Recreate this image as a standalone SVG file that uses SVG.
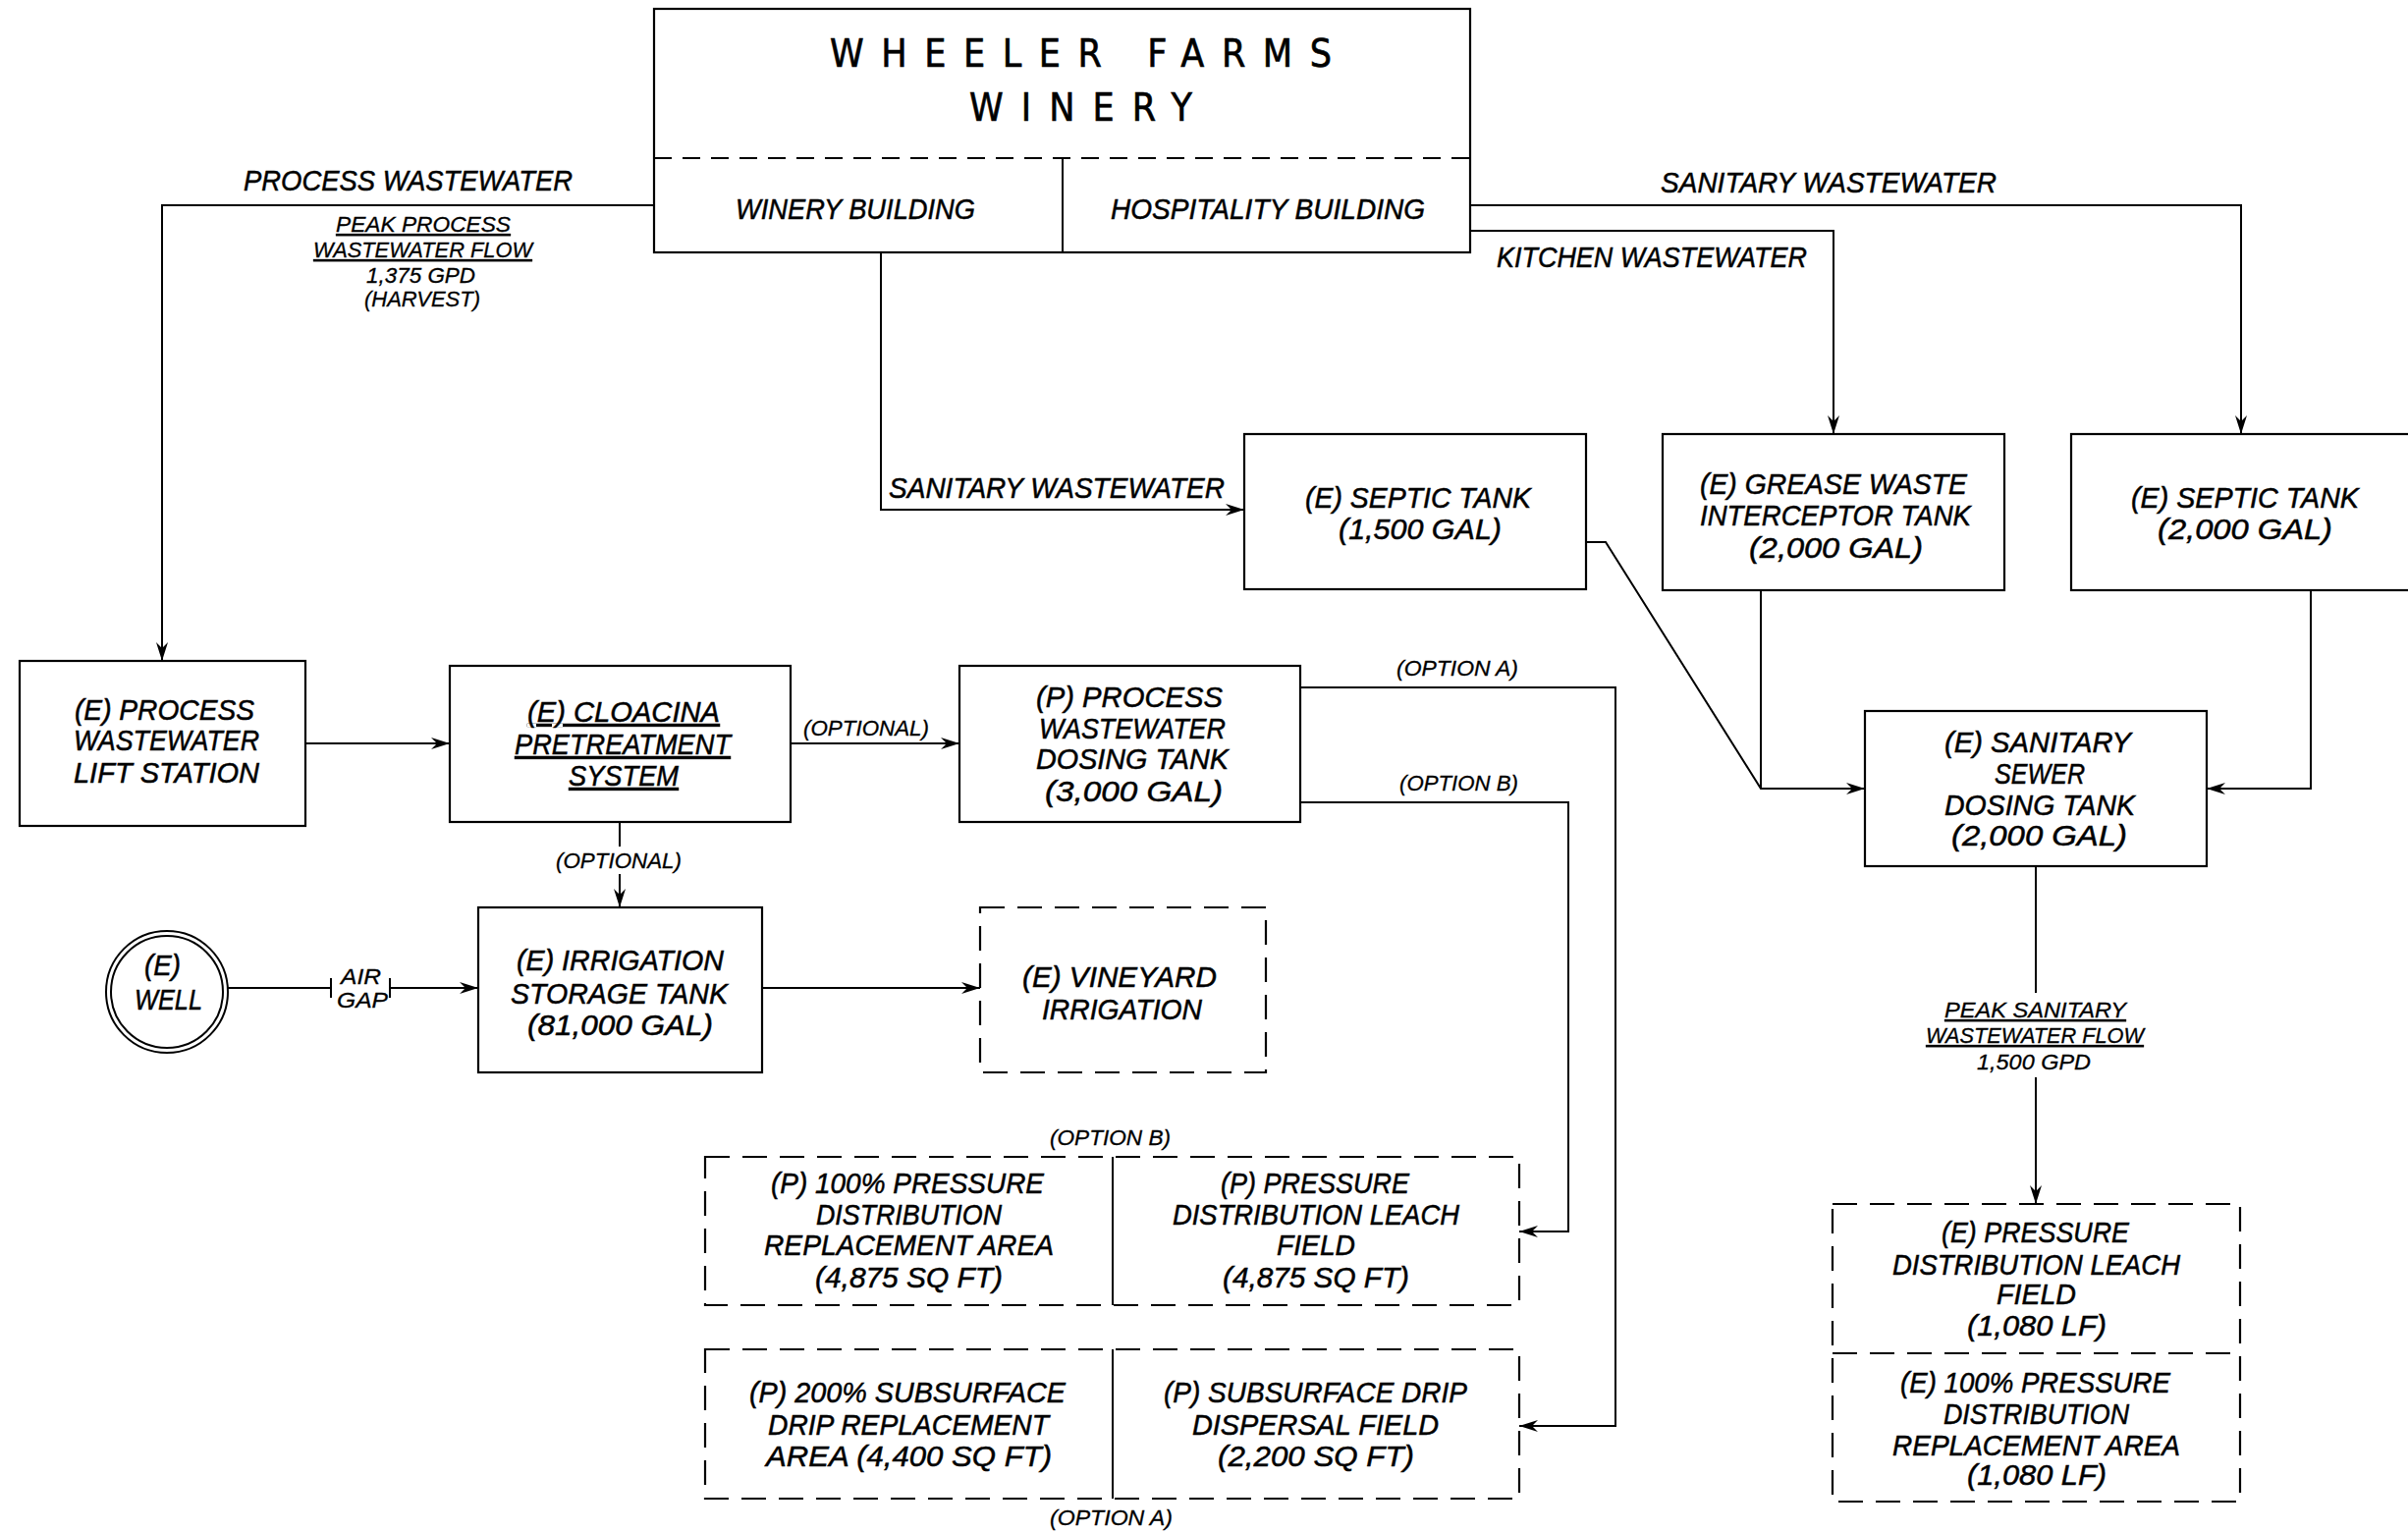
<svg xmlns="http://www.w3.org/2000/svg" width="2452" height="1560" viewBox="0 0 2452 1560">
<style>
.bg{fill:#fff}
.box{fill:none;stroke:#000;stroke-width:2.2}
.dbox{fill:none;stroke:#000;stroke-width:2.2;stroke-dasharray:25 13}
.ln{fill:none;stroke:#000;stroke-width:2}
.arr{fill:none;stroke:#000;stroke-width:2;marker-end:url(#ah)}
text{fill:#000;stroke:#000;stroke-width:0.5;font-family:"Liberation Sans",Arial,sans-serif;font-style:italic}
.m{font-size:29px}
.s{font-size:22px;stroke-width:0.3}
.u{text-decoration:underline}
.ttl{font-family:"DejaVu Sans Condensed","Liberation Sans",sans-serif;font-style:normal;font-size:39px;stroke-width:0.6}
</style>
<defs>
<marker id="ah" markerUnits="userSpaceOnUse" markerWidth="24" markerHeight="16" refX="20" refY="8" orient="auto">
<path d="M20,8 L1,2 L7,8 L1,14 Z" fill="#000"/>
</marker>
</defs>
<rect class="bg" x="0" y="0" width="2452" height="1560"/>

<g id="connectors">
<path class="arr" d="M667,209 H165 V673"/>
<path class="arr" d="M897,257 V519 H1267"/>
<path class="arr" d="M1497,209 H2282 V442"/>
<path class="arr" d="M1497,235 H1867 V442"/>
<path class="arr" d="M1616,552 H1635 L1793,803 H1899"/>
<path class="ln" d="M1793,601 V803"/>
<path class="arr" d="M2353,601 V803 H2247"/>
<path class="ln" d="M2073,882 V1011"/>
<path class="arr" d="M2073,1097 V1226"/>
<path class="arr" d="M311,757 H458"/>
<path class="arr" d="M805,757 H977"/>
<path class="ln" d="M631,837 V862"/>
<path class="arr" d="M631,890 V924"/>
<path class="ln" d="M231,1006 H337 M337,996 V1016 M397,996 V1016"/>
<path class="arr" d="M397,1006 H487"/>
<path class="arr" d="M776,1006 H998"/>
<path class="arr" d="M1324,700 H1645 V1452 H1547"/>
<path class="arr" d="M1324,817 H1597 V1254 H1547"/>

<text class="m" x="248" y="194" textLength="335" lengthAdjust="spacingAndGlyphs">PROCESS WASTEWATER</text>
<text class="s u" x="342" y="236" textLength="178" lengthAdjust="spacingAndGlyphs">PEAK PROCESS</text>
<text class="s u" x="319" y="262" textLength="223" lengthAdjust="spacingAndGlyphs">WASTEWATER FLOW</text>
<text class="s" x="373" y="288" textLength="111" lengthAdjust="spacingAndGlyphs">1,375 GPD</text>
<text class="s" x="371" y="312" textLength="118" lengthAdjust="spacingAndGlyphs">(HARVEST)</text>
<text class="m" x="1691" y="196" textLength="342" lengthAdjust="spacingAndGlyphs">SANITARY WASTEWATER</text>
<text class="m" x="1524" y="272" textLength="316" lengthAdjust="spacingAndGlyphs">KITCHEN WASTEWATER</text>
<text class="m" x="905" y="507" textLength="342" lengthAdjust="spacingAndGlyphs">SANITARY WASTEWATER</text>
<text class="s" x="818" y="749" textLength="128" lengthAdjust="spacingAndGlyphs">(OPTIONAL)</text>
<text class="s" x="566" y="884" textLength="128" lengthAdjust="spacingAndGlyphs">(OPTIONAL)</text>
<text class="s" x="347" y="1002" textLength="41" lengthAdjust="spacingAndGlyphs">AIR</text>
<text class="s" x="343" y="1026" textLength="52" lengthAdjust="spacingAndGlyphs">GAP</text>
<text class="s" x="1422" y="688" textLength="124" lengthAdjust="spacingAndGlyphs">(OPTION A)</text>
<text class="s" x="1425" y="805" textLength="121" lengthAdjust="spacingAndGlyphs">(OPTION B)</text>
<text class="s" x="1069" y="1166" textLength="123" lengthAdjust="spacingAndGlyphs">(OPTION B)</text>
<text class="s" x="1069" y="1553" textLength="125" lengthAdjust="spacingAndGlyphs">(OPTION A)</text>
<text class="s u" x="1980" y="1036" textLength="185" lengthAdjust="spacingAndGlyphs">PEAK SANITARY</text>
<text class="s u" x="1961" y="1062" textLength="222" lengthAdjust="spacingAndGlyphs">WASTEWATER FLOW</text>
<text class="s" x="2013" y="1089" textLength="116" lengthAdjust="spacingAndGlyphs">1,500 GPD</text>
</g>

<g id="winery">
<rect class="box" x="666" y="9" width="831" height="248"/>
<path class="ln" d="M666,161 H1497" stroke-dasharray="18 11"/>
<path class="ln" d="M1082,161 V257"/>
<text class="ttl" x="845" y="68" textLength="511" lengthAdjust="spacing">WHEELER FARMS</text>
<text class="ttl" x="987" y="123" textLength="227" lengthAdjust="spacing">WINERY</text>
<text class="m" x="749" y="223" textLength="244" lengthAdjust="spacingAndGlyphs">WINERY BUILDING</text>
<text class="m" x="1131" y="223" textLength="320" lengthAdjust="spacingAndGlyphs">HOSPITALITY BUILDING</text>
</g>

<g id="septic-1500">
<rect class="box" x="1267" y="442" width="348" height="158"/>
<text class="m" x="1329" y="517" textLength="230" lengthAdjust="spacingAndGlyphs">(E) SEPTIC TANK</text>
<text class="m" x="1363" y="549" textLength="166" lengthAdjust="spacingAndGlyphs">(1,500 GAL)</text>
</g>

<g id="grease">
<rect class="box" x="1693" y="442" width="348" height="159"/>
<text class="m" x="1731" y="503" textLength="272" lengthAdjust="spacingAndGlyphs">(E) GREASE WASTE</text>
<text class="m" x="1731" y="535" textLength="276" lengthAdjust="spacingAndGlyphs">INTERCEPTOR TANK</text>
<text class="m" x="1781" y="568" textLength="177" lengthAdjust="spacingAndGlyphs">(2,000 GAL)</text>
</g>

<g id="septic-2000">
<rect class="box" x="2109" y="442" width="360" height="159"/>
<text class="m" x="2170" y="517" textLength="232" lengthAdjust="spacingAndGlyphs">(E) SEPTIC TANK</text>
<text class="m" x="2197" y="549" textLength="178" lengthAdjust="spacingAndGlyphs">(2,000 GAL)</text>
</g>

<g id="lift-station">
<rect class="box" x="20" y="673" width="291" height="168"/>
<text class="m" x="76" y="733" textLength="183" lengthAdjust="spacingAndGlyphs">(E) PROCESS</text>
<text class="m" x="75" y="764" textLength="189" lengthAdjust="spacingAndGlyphs">WASTEWATER</text>
<text class="m" x="75" y="797" textLength="189" lengthAdjust="spacingAndGlyphs">LIFT STATION</text>
</g>

<g id="cloacina">
<rect class="box" x="458" y="678" width="347" height="159"/>
<text class="m u" x="537" y="735" textLength="196" lengthAdjust="spacingAndGlyphs">(E) CLOACINA</text>
<text class="m u" x="524" y="768" textLength="220" lengthAdjust="spacingAndGlyphs">PRETREATMENT</text>
<text class="m u" x="579" y="800" textLength="112" lengthAdjust="spacingAndGlyphs">SYSTEM</text>
</g>

<g id="process-dosing">
<rect class="box" x="977" y="678" width="347" height="159"/>
<text class="m" x="1055" y="720" textLength="190" lengthAdjust="spacingAndGlyphs">(P) PROCESS</text>
<text class="m" x="1058" y="752" textLength="190" lengthAdjust="spacingAndGlyphs">WASTEWATER</text>
<text class="m" x="1055" y="783" textLength="196" lengthAdjust="spacingAndGlyphs">DOSING TANK</text>
<text class="m" x="1064" y="816" textLength="181" lengthAdjust="spacingAndGlyphs">(3,000 GAL)</text>
</g>

<g id="sanitary-dosing">
<rect class="box" x="1899" y="724" width="348" height="158"/>
<text class="m" x="1980" y="766" textLength="190" lengthAdjust="spacingAndGlyphs">(E) SANITARY</text>
<text class="m" x="2031" y="798" textLength="92" lengthAdjust="spacingAndGlyphs">SEWER</text>
<text class="m" x="1980" y="830" textLength="194" lengthAdjust="spacingAndGlyphs">DOSING TANK</text>
<text class="m" x="1987" y="861" textLength="179" lengthAdjust="spacingAndGlyphs">(2,000 GAL)</text>
</g>

<g id="well">
<circle cx="170" cy="1010" r="62" fill="none" stroke="#000" stroke-width="2"/>
<circle cx="170" cy="1010" r="57" fill="none" stroke="#000" stroke-width="2"/>
<text class="m" x="147" y="993" textLength="37" lengthAdjust="spacingAndGlyphs">(E)</text>
<text class="m" x="137" y="1028" textLength="69" lengthAdjust="spacingAndGlyphs">WELL</text>
</g>

<g id="irrigation-tank">
<rect class="box" x="487" y="924" width="289" height="168"/>
<text class="m" x="526" y="988" textLength="211" lengthAdjust="spacingAndGlyphs">(E) IRRIGATION</text>
<text class="m" x="520" y="1022" textLength="221" lengthAdjust="spacingAndGlyphs">STORAGE TANK</text>
<text class="m" x="537" y="1054" textLength="189" lengthAdjust="spacingAndGlyphs">(81,000 GAL)</text>
</g>

<g id="vineyard">
<rect class="dbox" x="998" y="924" width="291" height="168"/>
<text class="m" x="1041" y="1005" textLength="198" lengthAdjust="spacingAndGlyphs">(E) VINEYARD</text>
<text class="m" x="1061" y="1038" textLength="163" lengthAdjust="spacingAndGlyphs">IRRIGATION</text>
</g>

<g id="option-b-fields">
<rect class="dbox" x="718" y="1178" width="829" height="151"/>
<path class="ln" d="M1133,1178 V1329"/>
<text class="m" x="785" y="1215" textLength="278" lengthAdjust="spacingAndGlyphs">(P) 100% PRESSURE</text>
<text class="m" x="831" y="1247" textLength="189" lengthAdjust="spacingAndGlyphs">DISTRIBUTION</text>
<text class="m" x="778" y="1278" textLength="295" lengthAdjust="spacingAndGlyphs">REPLACEMENT AREA</text>
<text class="m" x="830" y="1311" textLength="191" lengthAdjust="spacingAndGlyphs">(4,875 SQ FT)</text>
<text class="m" x="1243" y="1215" textLength="192" lengthAdjust="spacingAndGlyphs">(P) PRESSURE</text>
<text class="m" x="1194" y="1247" textLength="292" lengthAdjust="spacingAndGlyphs">DISTRIBUTION LEACH</text>
<text class="m" x="1300" y="1278" textLength="80" lengthAdjust="spacingAndGlyphs">FIELD</text>
<text class="m" x="1245" y="1311" textLength="190" lengthAdjust="spacingAndGlyphs">(4,875 SQ FT)</text>
</g>

<g id="option-a-fields">
<rect class="dbox" x="718" y="1374" width="829" height="152"/>
<path class="ln" d="M1133,1374 V1526"/>
<text class="m" x="763" y="1428" textLength="322" lengthAdjust="spacingAndGlyphs">(P) 200% SUBSURFACE</text>
<text class="m" x="782" y="1461" textLength="286" lengthAdjust="spacingAndGlyphs">DRIP REPLACEMENT</text>
<text class="m" x="780" y="1493" textLength="291" lengthAdjust="spacingAndGlyphs">AREA (4,400 SQ FT)</text>
<text class="m" x="1185" y="1428" textLength="309" lengthAdjust="spacingAndGlyphs">(P) SUBSURFACE DRIP</text>
<text class="m" x="1214" y="1461" textLength="251" lengthAdjust="spacingAndGlyphs">DISPERSAL FIELD</text>
<text class="m" x="1240" y="1493" textLength="200" lengthAdjust="spacingAndGlyphs">(2,200 SQ FT)</text>
</g>

<g id="sanitary-fields">
<rect class="dbox" x="1866" y="1226" width="415" height="303"/>
<path class="ln" d="M1866,1378 H2281" stroke-dasharray="25 13"/>
<text class="m" x="1977" y="1265" textLength="191" lengthAdjust="spacingAndGlyphs">(E) PRESSURE</text>
<text class="m" x="1927" y="1298" textLength="293" lengthAdjust="spacingAndGlyphs">DISTRIBUTION LEACH</text>
<text class="m" x="2033" y="1328" textLength="81" lengthAdjust="spacingAndGlyphs">FIELD</text>
<text class="m" x="2003" y="1360" textLength="142" lengthAdjust="spacingAndGlyphs">(1,080 LF)</text>
<text class="m" x="1935" y="1418" textLength="275" lengthAdjust="spacingAndGlyphs">(E) 100% PRESSURE</text>
<text class="m" x="1979" y="1450" textLength="189" lengthAdjust="spacingAndGlyphs">DISTRIBUTION</text>
<text class="m" x="1927" y="1482" textLength="293" lengthAdjust="spacingAndGlyphs">REPLACEMENT AREA</text>
<text class="m" x="2003" y="1512" textLength="142" lengthAdjust="spacingAndGlyphs">(1,080 LF)</text>
</g>
</svg>
